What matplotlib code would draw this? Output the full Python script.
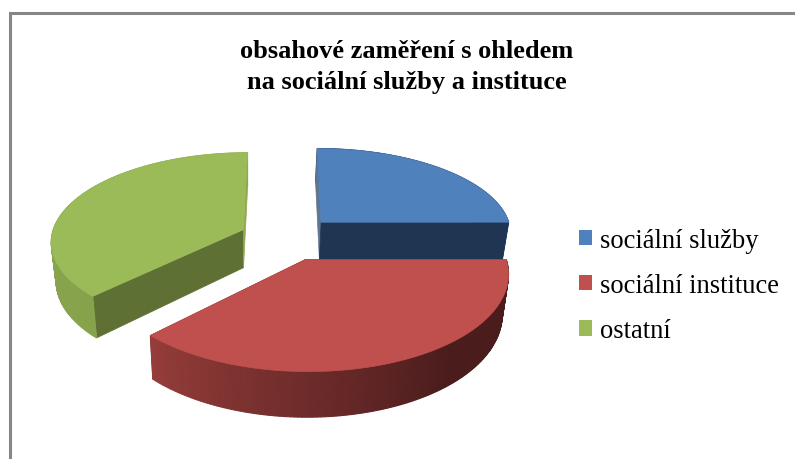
import numpy as np
import matplotlib
matplotlib.use("Agg")
import matplotlib.pyplot as plt
from matplotlib.patches import Patch, Polygon
from matplotlib.colors import to_rgb

# ---- data ----
categories = ["sociální služby", "sociální instituce", "ostatní"]
values = [25.0, 37.5, 37.5]
title_lines = ["obsahové zaměření s ohledem", "na sociální služby a instituce"]

# ---- styles ----
top_colors = ["#4F81BD", "#C0504D", "#9BBB59"]
radial_start_colors = ["#5F7590", "#5A1F1F", "#5E7033"]
radial_end_colors = ["#1F3552", "#5A1F1F", "#8DA851"]
rim_light = ["#35557E", "#963D3A", "#8CAA50"]
rim_dark = ["#1F3552", "#4A1C1C", "#86A34C"]
explode = [0.28, 0.29, 0.22]
radius_x = [1.0, 1.015, 1.0]
radius_y = [1.0, 1.055, 1.02]
nudge_x = [1.0, 0.0, -1.0]
nudge_y = [3.0, 0.0, 1.0]

# projective camera for the pie plane
VX, VY = 283.0, -480.0
A, C, B = 3.734, 5957.0, -8.31
DEPTH = 0.0535
NADIR_X, NADIR_K = 250.0, 0.0245

plt.rcParams["font.family"] = ["Liberation Serif", "DejaVu Serif"]
fig = plt.figure(figsize=(7.95, 4.60), dpi=100)
ax = fig.add_axes([0, 0, 1, 1])
ax.set_xlim(0, 795)
ax.set_ylim(460, 0)
ax.axis("off")


def project(X, Y):
    d = C / (Y - B)
    return VX + X * d / A, VY + d


def lower(x, y):
    return x + (NADIR_X - x) * NADIR_K, y + DEPTH * (y - VY)


def mix(c1, c2, t):
    a, b = np.array(to_rgb(c1)), np.array(to_rgb(c2))
    return tuple(a + (b - a) * t)


fractions = np.array(values) / sum(values)
edges = np.concatenate([[0], np.cumsum(fractions)]) * 2 * np.pi
order = [0, 2, 1]  # back to front

for i in order:
    t0, t1 = edges[i], edges[i + 1]
    mid = (t0 + t1) / 2
    ox, oy = explode[i] * np.sin(mid), explode[i] * np.cos(mid)
    th = np.linspace(t0, t1, 140)
    xa, ya = project(ox + radius_x[i] * np.sin(th), oy + radius_y[i] * np.cos(th))
    xc, yc = project(ox, oy)
    xa, ya = xa + nudge_x[i], ya + nudge_y[i]
    xc, yc = xc + nudge_x[i], yc + nudge_y[i]
    xb, yb = lower(xa, ya)
    xcb, ycb = lower(xc, yc)

    def quads(mask):
        for k in range(len(th) - 1):
            if mask[k]:
                f = (th[k] - t0) / (t1 - t0)
                if i == 1:
                    f = np.clip((th[k] - np.radians(140)) / np.radians(85), 0, 1)
                col = mix(rim_dark[i], rim_light[i], f)
                ax.add_patch(Polygon([(xa[k], ya[k]), (xa[k + 1], ya[k + 1]),
                                      (xb[k + 1], yb[k + 1]), (xb[k], yb[k])],
                                     closed=True, fc=col, ec=col, lw=0.8))

    front = np.cos(th) < 0
    quads(~front)
    for j, cols in ((0, radial_start_colors), (-1, radial_end_colors)):
        ax.add_patch(Polygon([(xc, yc), (xa[j], ya[j]), (xb[j], yb[j]), (xcb, ycb)],
                             closed=True, fc=cols[i], ec=cols[i], lw=0.5))
    quads(front)
    ax.add_patch(Polygon(np.column_stack([np.r_[xc, xa], np.r_[yc, ya]]), closed=True,
                         fc=top_colors[i], ec=top_colors[i], lw=0.5))

# chart frame (open towards right and bottom, as cropped)
ax.plot([9.5, 9.5, 795], [460, 13.5, 13.5], color="#868686", lw=2.2, solid_joinstyle="miter")

ax.text(407, 51, title_lines[0], fontsize=19, fontweight="bold", ha="center", va="center")
ax.text(407, 82, title_lines[1], fontsize=19, fontweight="bold", ha="center", va="center")

handles = [Patch(fc=c, ec="none") for c in top_colors]
leg = ax.legend(handles, categories, loc="upper left", bbox_to_anchor=(571 / 795, 1 - 221 / 460),
                frameon=False, fontsize=19.1, handlelength=0.49, handleheight=0.52,
                handletextpad=0.3, labelspacing=0.76, borderpad=0.3, borderaxespad=0)

fig.savefig("out.png", dpi=100)
